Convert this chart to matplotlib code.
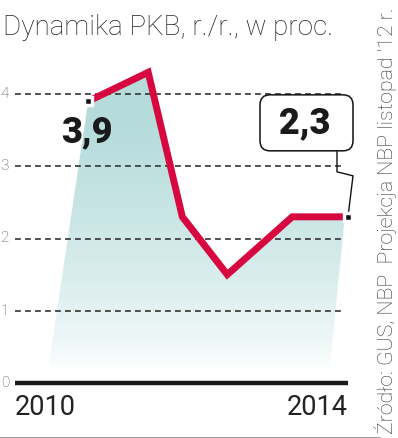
import numpy as np
import matplotlib
matplotlib.use('Agg')
import matplotlib.pyplot as plt
from matplotlib.patches import Polygon, FancyBboxPatch
from matplotlib.transforms import ScaledTranslation
from matplotlib.lines import Line2D

# dane: dynamika PKB r./r. w proc. (GUS, projekcja NBP listopad '12)
x_pos = [2010.88, 2011.60, 2012.01, 2012.55, 2013.33, 2014.00]
gdp = [3.9, 4.3, 2.3, 1.5, 2.3, 2.3]
y_ticks = [0, 1, 2, 3, 4]
x_ticks = [2010, 2014]
title = 'Dynamika PKB, r./r., w proc.'
source = "Źródło: GUS, NBP  Projekcja NBP listopad '12 r."

RED = '#d6083f'
TEAL = np.array([0.71, 0.86, 0.86])
LIGHT = ['Roboto', 'DejaVu Sans']

W, H = 398, 438
fig = plt.figure(figsize=(W / 100, H / 100), dpi=100)
ax = fig.add_axes([15 / W, (H - 383) / H, 333 / W, 343 / H])
ax.set_xlim(2010, 2014)
ax.set_ylim(0, 343 / 72.25)
ax.axis('off')

# wypelnienie z gradientem pod linia
poly_pts = list(zip(x_pos, gdp)) + [(2013.96, 2.28), (2013.78, 0.2), (2010.40, 0.2)]
clip = Polygon(poly_pts, closed=True, facecolor='none', edgecolor='none')
ax.add_patch(clip)
yy = np.linspace(0.2, 4.3, 256)
a = np.clip((yy - 0.2) / 3.4, 0, 1) ** 0.7
grad = (1 - a)[:, None] * np.ones(3) + a[:, None] * TEAL
img = ax.imshow(grad[:, None, :], extent=[2010.3, 2014.1, 0.2, 4.3], origin='lower',
                aspect='auto', zorder=1)
img.set_clip_path(clip)

# siatka
ax.hlines(y_ticks[1:], 2010, 2013.96, colors='#333333', linewidth=1.2,
          linestyles=(0, (3.5, 2.5)), zorder=2)
ax.axhline(0, color='#1a1a1a', linewidth=3.2, solid_capstyle='butt', clip_on=False, zorder=3)

for v in y_ticks:
    ax.annotate(str(v), xy=(0, v), xycoords=('axes fraction', 'data'), xytext=(-6, 0),
                textcoords='offset pixels', ha='right', va='center', fontsize=11,
                family=LIGHT, fontweight='light', color='#555555')

for i, yr in enumerate(x_ticks):
    ax.annotate(str(yr), xy=(yr, 0), xytext=(0, -11), textcoords='offset pixels',
                ha='left' if i == 0 else 'right', va='top', fontsize=19.5,
                family=LIGHT, fontweight='normal', color='#222222', annotation_clip=False)

# linia
ax.plot(x_pos, gdp, color=RED, linewidth=5, solid_joinstyle='miter', clip_on=False, zorder=4)
ax.plot([x_pos[0], x_pos[-1]], [gdp[0], gdp[-1]], 's', ms=6, mfc='#111111', mec='white',
        mew=2.5, clip_on=False, zorder=6)

# etykiety wartosci
ax.annotate('3,9', xy=(x_pos[0], gdp[0]), xytext=(-1, -31), textcoords='offset pixels',
            ha='center', va='center', fontsize=26, fontweight='black',
            family=LIGHT, color='#1a1a1a', zorder=7)

anchor = fig.dpi_scale_trans + ScaledTranslation(x_pos[-1], gdp[-1], ax.transData)
box = FancyBboxPatch((-0.80, 0.74), 0.77, 0.40, boxstyle='round,pad=0.08,rounding_size=0.1',
                     transform=anchor, facecolor='white', edgecolor='#111111',
                     linewidth=1.1, clip_on=False, zorder=6)
ax.add_patch(box)
ax.text(-0.43, 0.94, '2,3', transform=anchor, ha='center', va='center', fontsize=26,
        fontweight='black', family=LIGHT, color='#1a1a1a', zorder=7)
ax.add_line(Line2D([-0.11, -0.11, 0.05, 0.0], [0.65, 0.45, 0.41, 0.0], transform=anchor,
                   color='#111111', linewidth=1.0, clip_on=False, zorder=5))

# tytul i zrodlo
fig.text(3 / W, 1 - 35 / H, title, fontsize=20, family=LIGHT, fontweight='light',
         color='#222222', va='baseline', ha='left')
fig.text(386 / W, (H - 434) / H, source, rotation=90, ha='center', va='bottom',
         fontsize=15.3, family=LIGHT, fontweight='light', color='#333333')
fig.add_artist(Line2D([0, 380 / W], [0.5 / H, 0.5 / H], color='#888888', linewidth=1.2))

fig.savefig('out.png', dpi=100)
